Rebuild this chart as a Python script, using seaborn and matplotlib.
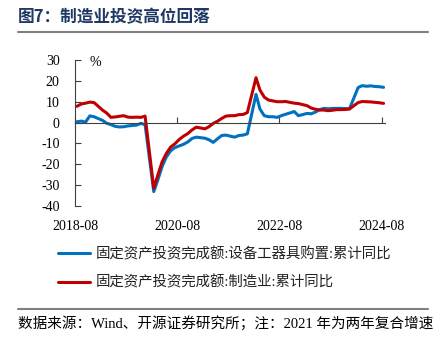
import numpy as np
import pandas as pd
import matplotlib
matplotlib.use("Agg")
import matplotlib.pyplot as plt
import matplotlib.dates as mdates
from matplotlib.lines import Line2D
import seaborn as sns

# ---------------- data ----------------
months = (
    ["2018-08", "2018-09", "2018-10", "2018-11", "2018-12"]
    + [f"2019-{m:02d}" for m in range(2, 13)]
    + [f"2020-{m:02d}" for m in range(2, 13)]
    + [f"2021-{m:02d}" for m in range(2, 13)]
    + [f"2022-{m:02d}" for m in range(2, 13)]
    + [f"2023-{m:02d}" for m in range(2, 13)]
    + [f"2024-{m:02d}" for m in range(2, 9)]
)

equip = [
    0.4, 0.7, 0.2, 3.2, 2.8,
    1.0, -0.3, -1.0, -1.8, -2.1, -2.0, -1.6, -1.4, -1.2, -0.4, -1.0,
    -33.1, -27.5, -21.0, -16.5, -13.5, -12.0, -11.2, -10.4, -9.3, -7.6, -7.0,
    -7.5, -8.2, -9.5, -7.8, -6.2, -6.0, -6.5, -7.0, -6.2, -6.0, -5.4,
    13.5, 6.5, 3.3, 2.8, 2.8, 2.5, 3.3, 4.0, 4.6, 5.3, 3.3,
    4.4, 4.2, 5.0, 6.2, 6.8, 6.6, 6.8, 6.8, 6.8, 6.7, 6.6,
    16.8, 17.7, 17.4, 17.6, 17.3, 17.2, 16.9,
]

manuf = [
    7.8, 8.9, 9.3, 9.8, 9.6,
    5.9, 4.6, 2.5, 2.7, 3.0, 3.3, 2.6, 2.5, 2.6, 2.5, 3.1,
    -31.5, -25.2, -18.8, -14.8, -11.7, -10.2, -8.1, -6.5, -5.3, -3.5, -2.2,
    -3.0, -2.0, -0.4, 0.6, 2.0, 3.1, 3.3, 3.3, 3.8, 3.9, 4.8,
    21.5, 15.6, 12.2, 10.8, 10.4, 10.0, 10.0, 10.1, 9.7, 9.3, 9.1,
    8.1, 7.0, 6.4, 6.0, 6.0, 5.7, 5.9, 6.2, 6.2, 6.3, 6.5,
    9.6, 10.1, 10.0, 9.9, 9.7, 9.5, 9.2,
]

series_names = [
    "固定资产投资完成额:设备工器具购置:累计同比",
    "固定资产投资完成额:制造业:累计同比",
]
tick_labels = ["2018-08", "2020-08", "2022-08", "2024-08"]
y_ticks = [-40, -30, -20, -10, 0, 10, 20, 30]

title = "图7：制造业投资高位回落"
source = "数据来源：Wind、开源证券研究所；注：2021 年为两年复合增速"

# ---------------- style ----------------
sns.set_theme(style="white")
plt.rcParams["font.family"] = ["Liberation Serif", "Noto Sans CJK SC", "DejaVu Sans"]
plt.rcParams["axes.unicode_minus"] = False

BLUE = "#0070C0"
RED = "#C00000"
AX_COLOR = "#404040"

dates = pd.to_datetime(months) + pd.Timedelta(days=14)
df = pd.DataFrame({
    "date": np.concatenate([dates, dates]),
    "value": equip + manuf,
    "series": np.repeat(series_names, len(months)),
})

fig = plt.figure(figsize=(4.36, 3.46), dpi=100)
ax = fig.add_axes([75 / 436, 1 - 206 / 346, 310 / 436, 146 / 346])

sns.lineplot(data=df, x="date", y="value", hue="series",
             hue_order=series_names, palette=[BLUE, RED],
             linewidth=2.2, ax=ax)

ax.set_xlabel("")
ax.set_ylabel("")
ax.set_ylim(-40, 30)
ax.set_yticks(y_ticks)
x0 = mdates.date2num(pd.Timestamp("2018-08-01"))
x1 = mdates.date2num(pd.Timestamp("2024-08-25"))
ax.set_xlim(x0, x1)

tick_pos = mdates.date2num(pd.to_datetime(tick_labels))
ax.set_xticks(tick_pos)

for s in ["top", "right"]:
    ax.spines[s].set_visible(False)
ax.spines["left"].set_color(AX_COLOR)
ax.spines["left"].set_linewidth(0.8)
ax.spines["bottom"].set_position(("data", 0))
ax.spines["bottom"].set_color(AX_COLOR)
ax.spines["bottom"].set_linewidth(0.8)

ax.tick_params(axis="y", direction="in", length=4, width=0.8, color=AX_COLOR,
               pad=11, labelsize=10, labelcolor="black", left=True)
ax.tick_params(axis="x", direction="in", length=4, width=0.8, color=AX_COLOR,
               labelbottom=False, bottom=True)

sec = ax.secondary_xaxis("bottom")
sec.spines["bottom"].set_visible(False)
sec.set_xticks(tick_pos, tick_labels)
sec.tick_params(length=0, pad=10, labelsize=10, labelcolor="black")

ax.text(0.065, 0.985, "%", transform=ax.transAxes, ha="center", va="center",
        fontsize=10, color="black")

sns.move_legend(ax, "upper left", bbox_to_anchor=(0.133, 0.287),
                bbox_transform=fig.transFigure, title=None, frameon=False,
                fontsize=10.4, handlelength=2.2, handletextpad=0.42,
                labelspacing=1.0, borderpad=0, borderaxespad=0)
for t in ax.get_legend().get_texts():
    t.set_color("#222222")

fig.text(18 / 436, 1 - 17 / 346, title, fontsize=12, fontweight="bold",
         color="#1F3864", va="center", ha="left",
         family=["Noto Sans CJK SC", "DejaVu Sans"])
fig.add_artist(Line2D([18 / 436, 428 / 436], [1 - 32 / 346] * 2,
                      transform=fig.transFigure, color="#808080", lw=1.5))
fig.add_artist(Line2D([18 / 436, 428 / 436], [1 - 309 / 346] * 2,
                      transform=fig.transFigure, color="#808080", lw=1.5))
fig.text(18 / 436, 1 - 323 / 346, source, fontsize=10.5, va="center", ha="left",
         color="black")

fig.savefig("out.png", dpi=100)
